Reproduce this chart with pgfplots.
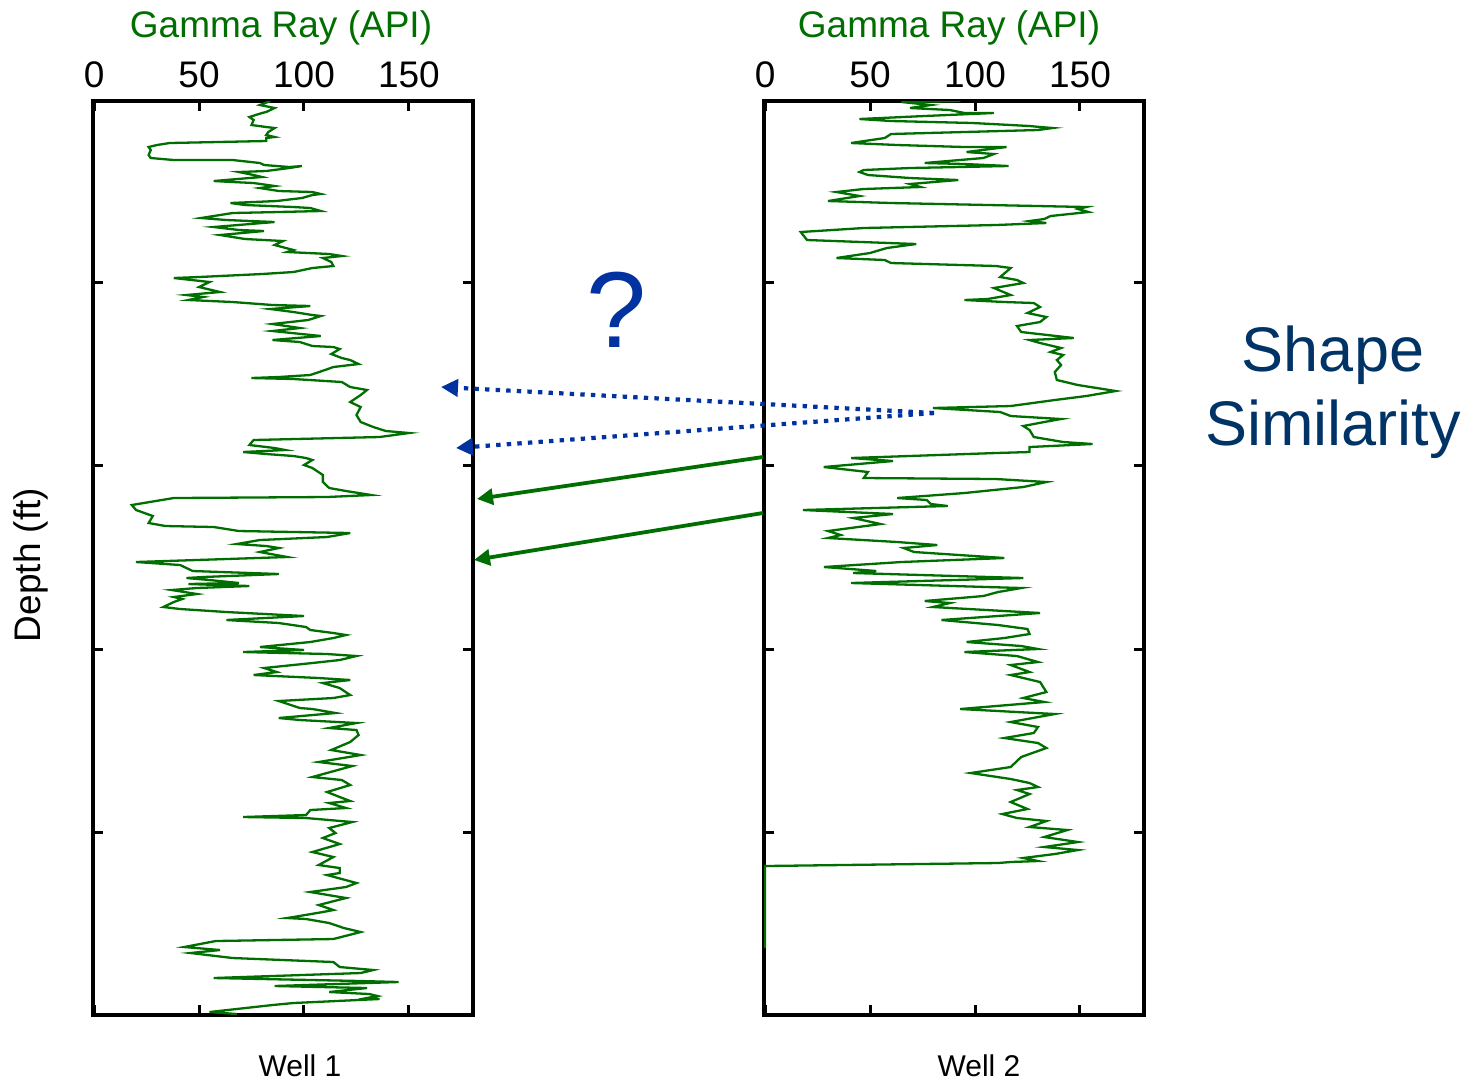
\documentclass[border=0pt]{standalone}
\usepackage{fontspec}
\setmainfont{Liberation Sans}
\usepackage{pgfplots}
\pgfplotsset{compat=1.18}
\usetikzlibrary{arrows.meta}
\definecolor{gr}{RGB}{0,110,0}
\definecolor{bl}{RGB}{0,51,160}
\definecolor{navy}{RGB}{0,51,102}
\pgfplotsset{welllog/.style={
  scale only axis, width=190pt, height=457pt,
  xmin=-0.5, xmax=180.5, ymin=2, ymax=916, y dir=reverse,
  xtick={0,50,100,150}, ytick={183,366,550,733}, yticklabels={},
  xtick pos=both, ytick pos=both, xticklabel pos=upper,
  tick align=inside, major tick length=5pt,
  axis line style={line width=1.6pt},
  every tick/.style={black, line width=1.5pt},
  /pgf/number format/assume math mode=true,
  ticklabel style={font=\fontsize{18.5}{20}\selectfont},
  xticklabel style={yshift=3pt},
  anchor=north west,
}}
\begin{document}
\begin{tikzpicture}
\path[use as bounding box] (0,0) rectangle (736.5pt,-543.5pt);
\begin{axis}[welllog, at={(46.5pt,-50.5pt)}]
\addplot[gr, line width=1.15pt] coordinates {
(84,2)(79,6)(86,9)(82,13)(80,14)(74,18)(76,21)(75,26)(82,28)(86,29)(83,33)(82,36)(86,38)(82,39)(82,42)(36,44)(30,46)(26,48)(27,51)(26,56)(27,59)(38,61)(66,61)(79,64)(81,66)(93,68)(99,67)(93,69)(82,72)(69,73)(76,76)(80,78)(74,79)(57,82)(66,83)(76,84)(86,87)(79,89)(88,92)(104,93)(108,95)(104,96)(99,99)(87,102)(65,104)(72,106)(95,108)(103,109)(108,112)(88,113)(66,114)(51,119)(63,121)(86,123)(57,128)(69,131)(81,132)(60,136)(72,140)(90,142)(86,146)(95,151)(92,153)(112,155)(118,157)(109,159)(113,163)(114,167)(104,169)(95,173)(80,175)(50,178)(38,179)(55,183)(50,188)(60,193)(44,196)(52,198)(45,201)(66,203)(85,206)(103,207)(84,210)(95,213)(104,216)(108,217)(102,221)(85,225)
(98,229)(85,232)(108,237)(85,241)(98,243)(104,247)(114,248)(117,250)(113,255)(118,259)(122,261)(126,265)(114,268)(110,271)(103,276)(88,278)(75,279)(95,280)(118,283)(122,288)(130,291)(127,296)(122,303)(127,308)(125,316)(127,323)(133,328)(139,332)(150,334)(136,338)(76,341)(74,346)(86,349)(91,351)(71,353)(82,355)(95,357)(101,359)(104,361)(100,366)(104,369)(109,376)(109,383)(112,389)(120,392)(132,396)(111,398)(38,399)(18,406)(20,411)(28,417)(26,424)(34,427)(57,428)(69,432)(122,434)(111,438)(79,441)(68,445)(82,447)(88,449)(79,453)(92,458)(20,463)
(41,466)(44,469)(47,472)(88,475)(52,478)(44,479)(55,481)(69,484)(45,485)(74,487)(49,489)(37,491)(49,495)(38,498)(42,500)(38,503)(33,508)(41,510)(63,513)(100,517)(63,521)(88,524)(101,528)(103,531)(114,534)(120,536)(114,539)(103,543)(79,548)(100,551)(71,553)(111,555)(125,557)(117,561)(104,564)(81,569)(87,573)(76,576)(107,579)(122,581)(109,584)(117,589)(122,596)(114,599)(88,602)(98,609)(104,610)(115,614)(88,619)(98,621)(125,624)(112,629)(125,631)(126,636)(122,643)(113,651)(127,656)(107,663)(123,667)(104,678)(118,681)(122,686)
(111,693)(117,698)(122,702)(112,704)(120,709)(103,711)(101,716)(71,718)(101,719)(123,723)(112,729)(115,734)(109,739)(117,745)(104,753)(114,758)(107,766)(117,769)(117,774)(111,776)(125,784)(120,788)(103,793)(120,799)(107,806)(114,811)(109,813)(95,818)(92,819)(101,820)(112,824)(119,829)(127,833)(114,840)(58,842)(43,848)(60,851)(46,854)(66,859)(114,863)(117,868)(133,871)(127,874)(57,879)(127,882)(145,883)(86,887)(130,889)(112,893)(131,895)(135,897)(130,899)(136,900)(95,904)(85,906)(55,913)(68,915)
};
\end{axis}
\begin{axis}[welllog, at={(382pt,-50.5pt)}]
\addplot[gr, line width=1.15pt] coordinates {
(93,2)(65,3)(79,6)(69,9)(88,11)(95,14)(109,14)(76,17)(45,20)(60,22)(99,24)(126,27)(131,28)(137,29)(130,31)(95,33)(60,35)(57,39)(41,44)(63,46)(95,48)(115,48)(96,53)(109,55)(104,59)(76,64)(95,65)(116,67)(69,69)(47,71)(45,73)(49,76)(69,79)(92,81)(69,85)(74,88)(47,90)(34,93)(45,97)(30,102)(60,104)(153,108)(149,110)(154,113)(136,117)(133,120)(126,122)(134,124)(110,126)(47,129)(17,133)(20,141)(72,145)(58,149)(50,154)(34,159)(57,161)(60,164)(110,167)(117,169)(112,178)(120,181)(123,184)(109,189)(117,196)(106,200)(95,201)(114,203)(128,204)(131,208)(125,214)(134,218)(131,223)(120,227)
(122,233)(147,239)(126,241)(131,244)(141,249)(136,253)(142,256)(139,261)(141,266)(138,273)(139,281)(149,286)(158,289)(167,292)(153,297)(138,301)(117,307)(80,309)(112,313)(117,317)(141,320)(133,323)(123,327)(126,331)(128,338)(142,343)(156,345)(126,348)(126,353)(110,354)(41,359)(61,362)(28,368)(49,373)(47,379)(110,380)(134,383)(123,388)(95,394)(63,399)(77,401)(79,405)(87,407)(18,411)(61,415)(42,419)(55,425)(30,432)(36,436)(30,439)(63,443)(82,446)(66,449)(71,453)(114,459)
(65,463)(28,468)(47,471)(53,472)(42,474)(123,479)(41,484)(122,489)(111,493)(104,497)(76,502)(88,504)(80,508)(131,514)(84,521)(111,526)(125,530)(126,535)(114,539)(96,543)(122,547)(130,550)(95,553)(120,557)(130,563)(117,566)(126,573)(117,576)(131,583)(134,593)(123,599)(133,603)(93,610)(138,615)(117,623)(130,628)(128,634)(114,639)(130,644)(134,649)(122,658)(117,668)(98,674)(117,680)(126,684)(130,688)
(120,691)(126,695)(117,703)(125,710)(113,715)(120,719)(134,722)(126,728)(144,731)(133,738)(149,743)(133,748)(149,751)(138,755)(123,759)(130,762)(117,763)(111,764)(0,767)(0,849)
};
\end{axis}
\begin{scope}[x=0.5pt, y=-0.5pt]
\node[gr, anchor=base, font=\fontsize{18.5}{20}\selectfont] at (281,37) {Gamma Ray (API)};
\node[gr, anchor=base, font=\fontsize{18.5}{20}\selectfont] at (949,37) {Gamma Ray (API)};
\node[anchor=base, font=\fontsize{15}{18}\selectfont] at (300,1076) {Well 1};
\node[anchor=base, font=\fontsize{15}{18}\selectfont] at (979,1076) {Well 2};
\node[anchor=base, rotate=90, font=\fontsize{18.5}{20}\selectfont] at (40,565) {Depth (ft)};
\node[bl, anchor=base, font=\fontsize{54}{60}\selectfont] at (617,347) {?};
\node[navy, anchor=base, font=\fontsize{31.5}{37}\selectfont] at (1333,371) {Shape};
\node[navy, anchor=base, font=\fontsize{31.5}{37}\selectfont] at (1333,445) {Similarity};
\draw[bl, line width=2.1pt, dash pattern=on 2.2pt off 3.1pt, -{Triangle[length=8.5pt,width=8.5pt]}] (934,413) -- (441,387);
\draw[bl, line width=2.1pt, dash pattern=on 2.2pt off 3.1pt, -{Triangle[length=8.5pt,width=8.5pt]}] (934,413) -- (456,448);
\draw[gr, line width=1.9pt, -{Triangle[length=8pt,width=8pt]}] (763,457) -- (477,499);
\draw[gr, line width=1.9pt, -{Triangle[length=8pt,width=8pt]}] (763,513) -- (474,560);
\end{scope}
\end{tikzpicture}
\end{document}
